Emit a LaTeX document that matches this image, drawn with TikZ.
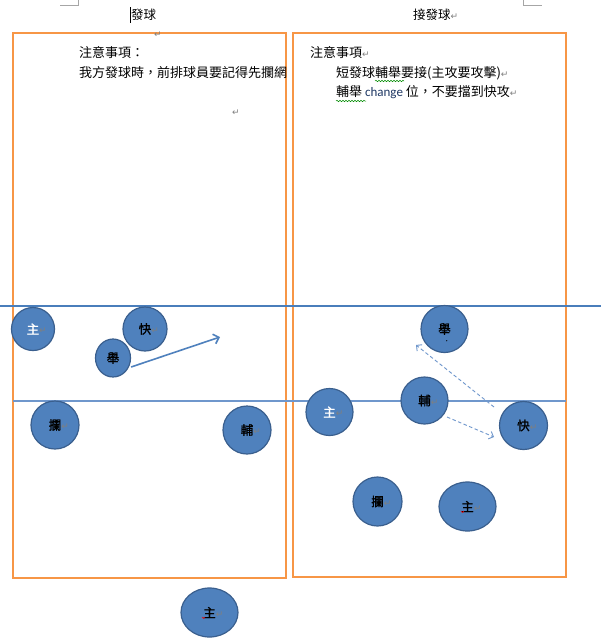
\documentclass[tikz,border=0pt]{standalone}
\usepackage{fontspec}
\usetikzlibrary{arrows.meta,shapes.geometric,decorations.pathmorphing}
\newfontfamily\cjk{Noto Sans CJK TC}
\newfontfamily\cjkb{Noto Sans CJK TC}[FakeBold=1.5]
\newfontfamily\symf{DejaVu Sans}
\newfontfamily\carl{Carlito}
\definecolor{pblue}{HTML}{4F81BD}
\definecolor{pedge}{HTML}{3A5F8E}
\definecolor{lblue}{HTML}{4A7EBB}
\definecolor{lblue2}{HTML}{6F97CC}
\definecolor{porange}{HTML}{F79646}
\definecolor{navy}{HTML}{1F3864}
\definecolor{pmgray}{HTML}{7F7F7F}
\newcommand\parmark{{\color{pmgray}\symf\fontsize{9}{9}\selectfont ↵}}
\newcommand\cpm{\rlap{\parmark}}
\tikzset{
  player/.style={circle, fill=pblue, draw=pedge, line width=1.2pt, inner sep=0pt,
    font=\cjkb\fontsize{12.5}{12.5}\selectfont},
  oval/.style={ellipse, fill=pblue, draw=pedge, line width=1.2pt, inner sep=0pt,
    font=\cjkb\fontsize{12.5}{12.5}\selectfont},
  txt/.style={inner sep=0pt, anchor=west, font=\cjk\fontsize{13}{15}\selectfont},
  title/.style={inner sep=0pt, anchor=west, font=\cjk\fontsize{12.5}{14}\selectfont},
  panel/.style={draw=porange, line width=1.8pt},
  netline/.style={draw=lblue, line width=1.3pt},
  netline2/.style={draw=lblue2, line width=1.1pt},
  runarrow/.style={draw=pblue, line width=1.6pt, -{Straight Barb[length=5pt,width=10pt]}},
  movearrow/.style={draw=lblue2, line width=0.9pt, dash pattern=on 3.5pt off 2.5pt,
    -{Straight Barb[length=4pt,width=8pt]}},
  wavy/.style={draw=green!55!black, line width=0.5pt, decorate,
    decoration={snake, amplitude=0.7pt, segment length=3pt}},
  corner/.style={draw=gray!70, line width=0.6pt}
}
\begin{document}
\begin{tikzpicture}[x=1pt,y=-1pt]
\useasboundingbox[fill=white] (0,0) rectangle (601,643);
% page corner marks
\draw[corner] (60,5) -- (78,5) -- (78,0);
\draw[corner] (523,0) -- (523,5) -- (542,5);
% titles
\draw[black, line width=1pt] (130.5,7) -- (130.5,23);
\node[title] (t1) at (131,15) {發球};
\node[title] (t2) at (413,15) {接發球\parmark};
% panels
\draw[panel] (13,33) rectangle (286,578);
\draw[panel] (293,33) rectangle (566,577);
% paragraph marks left panel
\node[inner sep=0pt] (pm1) at (158,35) {\parmark};
\node[inner sep=0pt] (pm2) at (236,113) {\parmark};
% notes
\node[txt] (ln1) at (79,53) {注意事項：};
\node[txt] (ln2) at (79,73) {我方發球時，前排球員要記得先攔網};
\node[txt] (rn1) at (310,53) {注意事項\parmark};
\node[txt] (rn2) at (336,73) {短發球輔舉要接(主攻要攻擊)\parmark};
\node[txt] (rn3) at (336,92) {輔舉 {\carl\color{navy}change} 位，不要擋到快攻\parmark};
\draw[wavy] (375,81) -- (404,81);
\draw[wavy] (336,101) -- (366,101);
% net lines
\draw[netline] (0,306) -- (601,306);
\draw[netline2] (13,401) -- (566,401);
% left court players
\node[player, minimum size=43pt, text=white] (lzhu) at (33,329) {主\cpm};
\node[player, minimum size=44pt] (lkuai) at (145,329) {快\cpm};
\node[oval, minimum width=35pt, minimum height=38pt] (lju) at (113,358) {舉};
\node[player, minimum size=48pt] (llan) at (55,425) {攔\cpm};
\node[player, minimum size=48pt] (lfu) at (247,430) {輔\cpm};
\coordinate (ltarget) at (220,337);
\draw[runarrow] (lju.east) ++(0,9) coordinate (lstart) -- (ltarget);
% right court players
\node[player, minimum size=47pt] (rju) at (444.5,329) {舉};
\fill[black] (446.7,340.7) circle (0.6pt);
\node[player, minimum size=47pt] (rfu) at (424.5,400.5) {輔\cpm};
\node[player, minimum size=47pt, text=white] (rzhu) at (329.5,412) {主\cpm};
\node[player, minimum size=48pt] (rkuai) at (523.5,425.5) {快\cpm};
\node[player, minimum size=49pt] (rlan) at (377.5,501.5) {攔\cpm};
\node[oval, minimum width=57pt, minimum height=49pt] (rzhu2) at (467.5,506.5) {主\cpm};
\draw[red, line width=0.6pt] (461,511) arc[start angle=180, end angle=360, radius=1.5pt];
% bottom server
\node[oval, minimum width=57pt, minimum height=49pt] (bzhu) at (209.5,612.5) {主\cpm};
\draw[red, line width=0.6pt] (202,617) arc[start angle=180, end angle=360, radius=1.5pt];
% movement arrows
\coordinate (m1s) at (494,407);
\coordinate (m1e) at (416,345);
\coordinate (m2s) at (447,417);
\coordinate (m2e) at (494,437);
\draw[movearrow] (m1s) -- (m1e);
\draw[movearrow] (m2s) -- (m2e);
\end{tikzpicture}
\end{document}
